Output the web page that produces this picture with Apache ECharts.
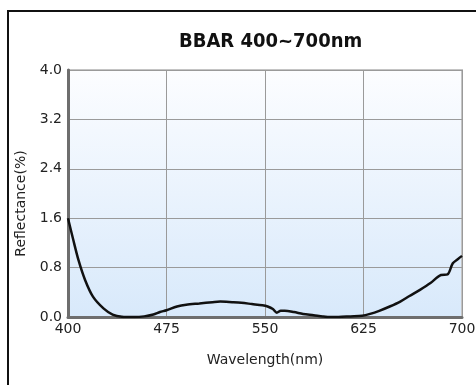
<!DOCTYPE html>
<html>
<head>
<meta charset="utf-8">
<script src="https://cdn.jsdelivr.net/npm/echarts@6/dist/echarts.min.js"></script>
<style>
  html, body { margin: 0; padding: 0; background: #fff; }
  #wrap { position: relative; width: 476px; height: 385px; overflow: hidden; }
  #frame { position: absolute; left: 7px; top: 10px; width: 500px; height: 400px;
           border-top: 2px solid #111; border-left: 2px solid #111; }
  #chart { position: absolute; left: 0; top: 0; width: 476px; height: 385px; }
</style>
</head>
<body>
<div id="wrap">
  <div id="frame"></div>
  <div id="chart"></div>
</div>
<script>
// wavelength (nm) and reflectance (%)
const wavelength = [400, 404, 408, 413, 419, 427, 434, 441, 450, 458, 465, 470, 475, 483, 490,
  500, 510, 516, 525, 532, 540, 548, 552, 556, 559, 562, 565, 572, 579, 587, 594, 600, 606,
  615, 624, 630, 637, 645, 653, 660, 668, 676, 684, 689, 693, 697, 700];
const reflectance = [1.6, 1.25, 0.92, 0.6, 0.33, 0.14, 0.04, 0.005, 0.0, 0.01, 0.04, 0.08, 0.11,
  0.17, 0.2, 0.22, 0.24, 0.25, 0.24, 0.23, 0.21, 0.19, 0.17, 0.13, 0.07, 0.1, 0.1, 0.08, 0.05,
  0.03, 0.01, 0.0, 0.0, 0.01, 0.02, 0.05, 0.1, 0.17, 0.25, 0.34, 0.44, 0.55, 0.68, 0.69, 0.87,
  0.94, 0.99];
const xTicks = [400, 475, 550, 625, 700];
const yTicks = [0, 0.8, 1.6, 2.4, 3.2, 4.0];

const font = "DejaVu Sans";
const chart = echarts.init(document.getElementById("chart"));

const option = {
  animation: false,
  title: {
    text: "BBAR 400~700nm",
    left: 174,
    top: 27,
    textStyle: {
      fontFamily: "DejaVu Sans Condensed",
      fontWeight: "bold",
      fontSize: 20,
      color: "#111",
    },
  },
  grid: {
    left: 68,
    right: 14,
    top: 70,
    bottom: 68,
    show: true,
    borderColor: "#c4c4c4",
    borderWidth: 2,
    outerBoundsMode: "none",
    backgroundColor: new echarts.graphic.LinearGradient(0, 0, 0, 1, [
      { offset: 0, color: "#fcfdff" },
      { offset: 1, color: "#d8e9fb" },
    ]),
  },
  xAxis: {
    type: "value",
    min: xTicks[0],
    max: xTicks[xTicks.length - 1],
    interval: 75,
    name: "Wavelength(nm)",
    nameLocation: "middle",
    nameGap: 36,
    nameTextStyle: { fontFamily: font, fontSize: 14, color: "#222" },
    axisLine: { show: true, lineStyle: { color: "#6e6e6e", width: 3 } },
    axisTick: { show: false },
    axisLabel: {
      margin: 5,
      fontFamily: font,
      fontSize: 14,
      color: "#222",
      formatter: (v) => String(v),
    },
    splitLine: { show: true, lineStyle: { color: "#9a9a9a", width: 1 } },
  },
  yAxis: {
    type: "value",
    min: yTicks[0],
    max: yTicks[yTicks.length - 1],
    interval: 0.8,
    name: "Reflectance(%)",
    nameLocation: "middle",
    nameRotate: 90,
    nameGap: 39,
    nameTextStyle: { fontFamily: font, fontSize: 14, color: "#222", padding: [0, 20, 0, 0] },
    axisLine: { show: true, lineStyle: { color: "#6e6e6e", width: 3 } },
    axisTick: { show: false },
    axisLabel: {
      margin: 6,
      fontFamily: font,
      fontSize: 14,
      color: "#222",
      formatter: (v) => v.toFixed(1),
    },
    splitLine: { show: true, lineStyle: { color: "#9a9a9a", width: 1 } },
  },
  series: [
    {
      type: "line",
      data: wavelength.map((w, i) => [w, reflectance[i]]),
      showSymbol: false,
      smooth: 0.3,
      lineStyle: { color: "#111", width: 2.5 },
      z: 5,
    },
  ],
};
chart.setOption(option);
</script>
</body>
</html>
